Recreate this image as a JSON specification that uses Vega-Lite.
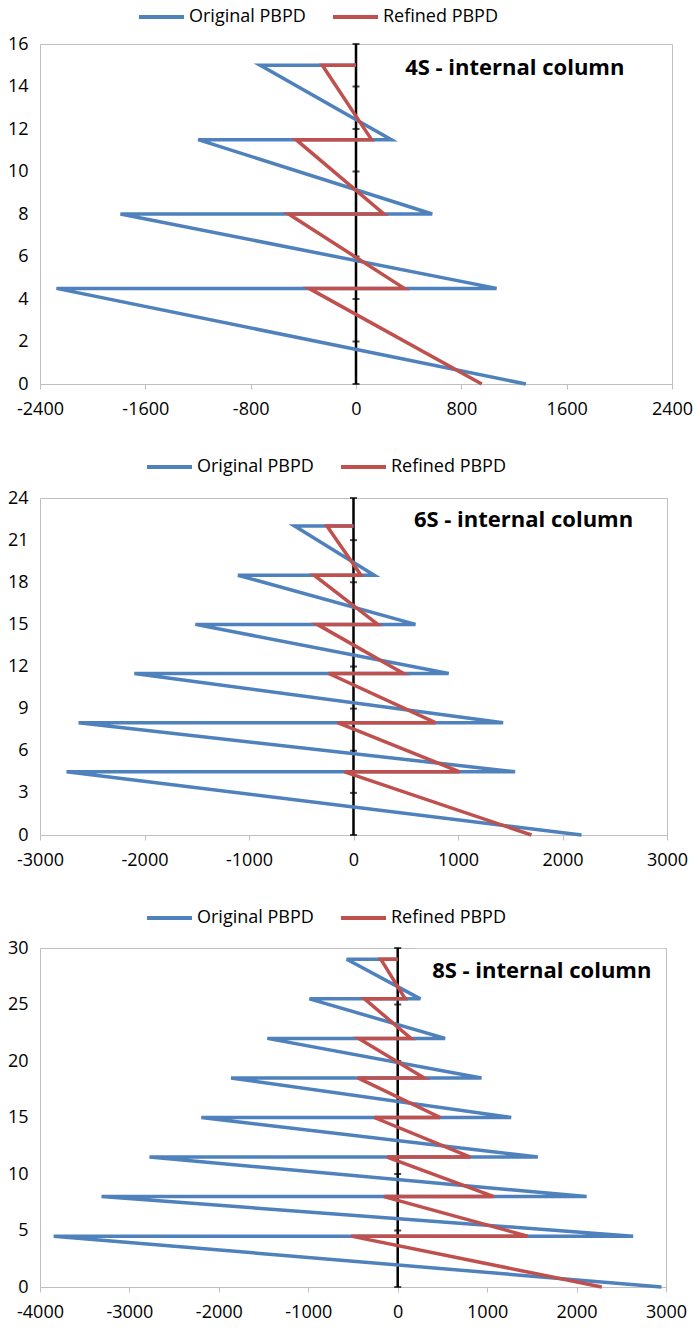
{
  "$schema": "https://vega.github.io/schema/vega-lite/v6.json",
  "padding": {"left": 6, "top": 5, "right": 5, "bottom": 5},
  "background": "white",
  "spacing": 36,
  "datasets": {
    "p1": [
      {"series": "Original PBPD", "i": 0, "x": 0, "y": 15},
      {"series": "Original PBPD", "i": 1, "x": -727, "y": 15},
      {"series": "Original PBPD", "i": 2, "x": 269, "y": 11.5},
      {"series": "Original PBPD", "i": 3, "x": -1199, "y": 11.5},
      {"series": "Original PBPD", "i": 4, "x": 579, "y": 8},
      {"series": "Original PBPD", "i": 5, "x": -1789, "y": 8},
      {"series": "Original PBPD", "i": 6, "x": 1068, "y": 4.5},
      {"series": "Original PBPD", "i": 7, "x": -2275, "y": 4.5},
      {"series": "Original PBPD", "i": 8, "x": 1290, "y": 0},
      {"series": "Refined PBPD", "i": 0, "x": 0, "y": 15},
      {"series": "Refined PBPD", "i": 1, "x": -256, "y": 15},
      {"series": "Refined PBPD", "i": 2, "x": 118, "y": 11.5},
      {"series": "Refined PBPD", "i": 3, "x": -455, "y": 11.5},
      {"series": "Refined PBPD", "i": 4, "x": 212, "y": 8},
      {"series": "Refined PBPD", "i": 5, "x": -512, "y": 8},
      {"series": "Refined PBPD", "i": 6, "x": 367, "y": 4.5},
      {"series": "Refined PBPD", "i": 7, "x": -357, "y": 4.5},
      {"series": "Refined PBPD", "i": 8, "x": 955, "y": 0}
    ],
    "p2": [
      {"series": "Original PBPD", "i": 0, "x": 0, "y": 22},
      {"series": "Original PBPD", "i": 1, "x": -564, "y": 22},
      {"series": "Original PBPD", "i": 2, "x": 199, "y": 18.5},
      {"series": "Original PBPD", "i": 3, "x": -1106, "y": 18.5},
      {"series": "Original PBPD", "i": 4, "x": 593, "y": 15},
      {"series": "Original PBPD", "i": 5, "x": -1513, "y": 15},
      {"series": "Original PBPD", "i": 6, "x": 911, "y": 11.5},
      {"series": "Original PBPD", "i": 7, "x": -2097, "y": 11.5},
      {"series": "Original PBPD", "i": 8, "x": 1432, "y": 8},
      {"series": "Original PBPD", "i": 9, "x": -2631, "y": 8},
      {"series": "Original PBPD", "i": 10, "x": 1547, "y": 4.5},
      {"series": "Original PBPD", "i": 11, "x": -2746, "y": 4.5},
      {"series": "Original PBPD", "i": 12, "x": 2182, "y": 0},
      {"series": "Refined PBPD", "i": 0, "x": 0, "y": 22},
      {"series": "Refined PBPD", "i": 1, "x": -254, "y": 22},
      {"series": "Refined PBPD", "i": 2, "x": 72, "y": 18.5},
      {"series": "Refined PBPD", "i": 3, "x": -377, "y": 18.5},
      {"series": "Refined PBPD", "i": 4, "x": 233, "y": 15},
      {"series": "Refined PBPD", "i": 5, "x": -347, "y": 15},
      {"series": "Refined PBPD", "i": 6, "x": 479, "y": 11.5},
      {"series": "Refined PBPD", "i": 7, "x": -237, "y": 11.5},
      {"series": "Refined PBPD", "i": 8, "x": 784, "y": 8},
      {"series": "Refined PBPD", "i": 9, "x": -153, "y": 8},
      {"series": "Refined PBPD", "i": 10, "x": 1017, "y": 4.5},
      {"series": "Refined PBPD", "i": 11, "x": -85, "y": 4.5},
      {"series": "Refined PBPD", "i": 12, "x": 1703, "y": 0}
    ],
    "p3": [
      {"series": "Original PBPD", "i": 0, "x": 0, "y": 29},
      {"series": "Original PBPD", "i": 1, "x": -570, "y": 29},
      {"series": "Original PBPD", "i": 2, "x": 253, "y": 25.5},
      {"series": "Original PBPD", "i": 3, "x": -987, "y": 25.5},
      {"series": "Original PBPD", "i": 4, "x": 530, "y": 22},
      {"series": "Original PBPD", "i": 5, "x": -1458, "y": 22},
      {"series": "Original PBPD", "i": 6, "x": 937, "y": 18.5},
      {"series": "Original PBPD", "i": 7, "x": -1864, "y": 18.5},
      {"series": "Original PBPD", "i": 8, "x": 1269, "y": 15},
      {"series": "Original PBPD", "i": 9, "x": -2196, "y": 15},
      {"series": "Original PBPD", "i": 10, "x": 1567, "y": 11.5},
      {"series": "Original PBPD", "i": 11, "x": -2776, "y": 11.5},
      {"series": "Original PBPD", "i": 12, "x": 2112, "y": 8},
      {"series": "Original PBPD", "i": 13, "x": -3312, "y": 8},
      {"series": "Original PBPD", "i": 14, "x": 2633, "y": 4.5},
      {"series": "Original PBPD", "i": 15, "x": -3847, "y": 4.5},
      {"series": "Original PBPD", "i": 16, "x": 2950, "y": 0},
      {"series": "Refined PBPD", "i": 0, "x": 0, "y": 29},
      {"series": "Refined PBPD", "i": 1, "x": -188, "y": 29},
      {"series": "Refined PBPD", "i": 2, "x": 84, "y": 25.5},
      {"series": "Refined PBPD", "i": 3, "x": -372, "y": 25.5},
      {"series": "Refined PBPD", "i": 4, "x": 149, "y": 22},
      {"series": "Refined PBPD", "i": 5, "x": -436, "y": 22},
      {"series": "Refined PBPD", "i": 6, "x": 297, "y": 18.5},
      {"series": "Refined PBPD", "i": 7, "x": -446, "y": 18.5},
      {"series": "Refined PBPD", "i": 8, "x": 476, "y": 15},
      {"series": "Refined PBPD", "i": 9, "x": -263, "y": 15},
      {"series": "Refined PBPD", "i": 10, "x": 813, "y": 11.5},
      {"series": "Refined PBPD", "i": 11, "x": -119, "y": 11.5},
      {"series": "Refined PBPD", "i": 12, "x": 1076, "y": 8},
      {"series": "Refined PBPD", "i": 13, "x": -154, "y": 8},
      {"series": "Refined PBPD", "i": 14, "x": 1453, "y": 4.5},
      {"series": "Refined PBPD", "i": 15, "x": -521, "y": 4.5},
      {"series": "Refined PBPD", "i": 16, "x": 2281, "y": 0}
    ],
    "t1": [{"t": 0}, {"t": 2}, {"t": 4}, {"t": 6}, {"t": 8}, {"t": 10}, {"t": 12}, {"t": 14}, {"t": 16}],
    "t2": [{"t": 0}, {"t": 3}, {"t": 6}, {"t": 9}, {"t": 12}, {"t": 15}, {"t": 18}, {"t": 21}, {"t": 24}],
    "t3": [{"t": 0}, {"t": 5}, {"t": 10}, {"t": 15}, {"t": 20}, {"t": 25}, {"t": 30}],
    "one": [{"k": 1}]
  },
  "vconcat": [
    {
      "width": 632,
      "height": 340,
      "layer": [
        {
          "data": {"name": "one"},
          "mark": {"type": "rect", "fill": "white"},
          "encoding": {
            "x": {"datum": 150, "type": "quantitative", "scale": {"domain": [-2400, 2400], "nice": false, "zero": false}, "axis": {"values": [-2400, -1600, -800, 0, 800, 1600, 2400], "title": null, "labelExpr": "datum.value + ''"}},
            "x2": {"datum": 2390},
            "y": {"datum": 14.05, "type": "quantitative", "scale": {"domain": [0, 16], "nice": false, "zero": false}, "axis": {"values": [0, 2, 4, 6, 8, 10, 12, 14, 16], "title": null}},
            "y2": {"datum": 15.95}
          }
        },
        {
          "data": {"name": "one"},
          "mark": {"type": "rule", "color": "black", "strokeWidth": 2.5},
          "encoding": {"x": {"datum": 0, "type": "quantitative"}}
        },
        {
          "data": {"name": "t1"},
          "mark": {"type": "tick", "orient": "horizontal", "color": "black", "size": 7, "thickness": 2},
          "encoding": {"x": {"datum": 0, "type": "quantitative"}, "y": {"field": "t", "type": "quantitative", "axis": {"values": [0, 2, 4, 6, 8, 10, 12, 14, 16], "title": null}}}
        },
        {
          "data": {"name": "p1"},
          "mark": {"type": "line", "strokeWidth": 3.5},
          "encoding": {
            "x": {"field": "x", "type": "quantitative", "axis": {"values": [-2400, -1600, -800, 0, 800, 1600, 2400], "title": null, "labelExpr": "datum.value + ''"}},
            "y": {"field": "y", "type": "quantitative", "axis": {"values": [0, 2, 4, 6, 8, 10, 12, 14, 16], "title": null}},
            "order": {"field": "i", "type": "quantitative"},
            "color": {"field": "series", "type": "nominal", "scale": {"domain": ["Original PBPD", "Refined PBPD"], "range": ["#4F81BD", "#C0504D"]}, "legend": {"orient": "none", "direction": "horizontal", "legendX": 97, "legendY": -38, "title": null}}
          }
        },
        {
          "data": {"name": "one"},
          "mark": {"type": "text", "text": "4S - internal column", "font": "Open Sans", "fontWeight": "bold", "fontSize": 22, "color": "black", "align": "center", "baseline": "middle"},
          "encoding": {"x": {"datum": 1206, "type": "quantitative"}, "y": {"datum": 14.87, "type": "quantitative"}}
        }
      ]
    },
    {
      "width": 627,
      "height": 337,
      "layer": [
        {
          "data": {"name": "one"},
          "mark": {"type": "rect", "fill": "white"},
          "encoding": {
            "x": {"datum": 300, "type": "quantitative", "scale": {"domain": [-3000, 3000], "nice": false, "zero": false}, "axis": {"values": [-3000, -2000, -1000, 0, 1000, 2000, 3000], "title": null, "labelExpr": "datum.value + ''"}},
            "x2": {"datum": 2985},
            "y": {"datum": 21.05, "type": "quantitative", "scale": {"domain": [0, 24], "nice": false, "zero": false}, "axis": {"values": [0, 3, 6, 9, 12, 15, 18, 21, 24], "title": null}},
            "y2": {"datum": 23.93}
          }
        },
        {
          "data": {"name": "one"},
          "mark": {"type": "rule", "color": "black", "strokeWidth": 2.5},
          "encoding": {"x": {"datum": 0, "type": "quantitative"}}
        },
        {
          "data": {"name": "t2"},
          "mark": {"type": "tick", "orient": "horizontal", "color": "black", "size": 7, "thickness": 2},
          "encoding": {"x": {"datum": 0, "type": "quantitative"}, "y": {"field": "t", "type": "quantitative", "axis": {"values": [0, 3, 6, 9, 12, 15, 18, 21, 24], "title": null}}}
        },
        {
          "data": {"name": "p2"},
          "mark": {"type": "line", "strokeWidth": 3.5},
          "encoding": {
            "x": {"field": "x", "type": "quantitative", "axis": {"values": [-3000, -2000, -1000, 0, 1000, 2000, 3000], "title": null, "labelExpr": "datum.value + ''"}},
            "y": {"field": "y", "type": "quantitative", "axis": {"values": [0, 3, 6, 9, 12, 15, 18, 21, 24], "title": null}},
            "order": {"field": "i", "type": "quantitative"},
            "color": {"field": "series", "type": "nominal", "scale": {"domain": ["Original PBPD", "Refined PBPD"], "range": ["#4F81BD", "#C0504D"]}, "legend": {"orient": "none", "direction": "horizontal", "legendX": 105, "legendY": -42, "title": null}}
          }
        },
        {
          "data": {"name": "one"},
          "mark": {"type": "text", "text": "6S - internal column", "font": "Open Sans", "fontWeight": "bold", "fontSize": 22, "color": "black", "align": "center", "baseline": "middle"},
          "encoding": {"x": {"datum": 1627, "type": "quantitative"}, "y": {"datum": 22.4, "type": "quantitative"}}
        }
      ]
    },
    {
      "width": 626,
      "height": 339,
      "layer": [
        {
          "data": {"name": "one"},
          "mark": {"type": "rect", "fill": "white"},
          "encoding": {
            "x": {"datum": 200, "type": "quantitative", "scale": {"domain": [-4000, 3000], "nice": false, "zero": false}, "axis": {"values": [-4000, -3000, -2000, -1000, 0, 1000, 2000, 3000], "title": null, "labelExpr": "datum.value + ''"}},
            "x2": {"datum": 2985},
            "y": {"datum": 26.4, "type": "quantitative", "scale": {"domain": [0, 30], "nice": false, "zero": false}, "axis": {"values": [0, 5, 10, 15, 20, 25, 30], "title": null}},
            "y2": {"datum": 29.93}
          }
        },
        {
          "data": {"name": "one"},
          "mark": {"type": "rule", "color": "black", "strokeWidth": 2.5},
          "encoding": {"x": {"datum": 0, "type": "quantitative"}}
        },
        {
          "data": {"name": "t3"},
          "mark": {"type": "tick", "orient": "horizontal", "color": "black", "size": 7, "thickness": 2},
          "encoding": {"x": {"datum": 0, "type": "quantitative"}, "y": {"field": "t", "type": "quantitative", "axis": {"values": [0, 5, 10, 15, 20, 25, 30], "title": null}}}
        },
        {
          "data": {"name": "p3"},
          "mark": {"type": "line", "strokeWidth": 3.5},
          "encoding": {
            "x": {"field": "x", "type": "quantitative", "axis": {"values": [-4000, -3000, -2000, -1000, 0, 1000, 2000, 3000], "title": null, "labelExpr": "datum.value + ''"}},
            "y": {"field": "y", "type": "quantitative", "axis": {"values": [0, 5, 10, 15, 20, 25, 30], "title": null}},
            "order": {"field": "i", "type": "quantitative"},
            "color": {"field": "series", "type": "nominal", "scale": {"domain": ["Original PBPD", "Refined PBPD"], "range": ["#4F81BD", "#C0504D"]}, "legend": {"orient": "none", "direction": "horizontal", "legendX": 105, "legendY": -41, "title": null}}
          }
        },
        {
          "data": {"name": "one"},
          "mark": {"type": "text", "text": "8S - internal column", "font": "Open Sans", "fontWeight": "bold", "fontSize": 22, "color": "black", "align": "center", "baseline": "middle"},
          "encoding": {"x": {"datum": 1611, "type": "quantitative"}, "y": {"datum": 28.0, "type": "quantitative"}}
        }
      ]
    }
  ],
  "resolve": {"scale": {"color": "independent", "x": "independent", "y": "independent"}, "legend": {"color": "independent"}},
  "config": {
    "view": {"stroke": "#BFBFBF", "strokeWidth": 1},
    "axis": {
      "labelFont": "Open Sans",
      "labelFontSize": 18,
      "labelColor": "#000000",
      "gridColor": "#BFBFBF",
      "gridWidth": 1,
      "domainColor": "#BFBFBF",
      "tickColor": "#BFBFBF",
      "labelFlush": false,
      "labelOverlap": false,
      "labelBound": false
    },
    "axisX": {"tickSize": 5, "labelPadding": 11},
    "axisY": {"ticks": false, "labelPadding": 12, "domain": false},
    "legend": {
      "symbolType": "stroke",
      "symbolStrokeWidth": 4,
      "symbolSize": 2025,
      "clipHeight": 22,
      "labelFont": "Open Sans",
      "labelFontSize": 18,
      "labelColor": "#000000",
      "labelOffset": 3,
      "columnPadding": 25,
      "padding": 0
    }
  }
}
